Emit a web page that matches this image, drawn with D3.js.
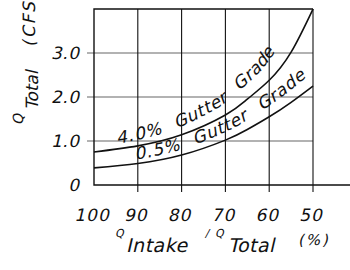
<!DOCTYPE html>
<html>
<head>
<meta charset="utf-8">
<script src="https://cdn.jsdelivr.net/npm/d3@7"></script>
<style>
  html, body { margin: 0; padding: 0; background: #fff; }
  svg { display: block; }
  text { font-family: "DejaVu Sans", sans-serif; fill: #111; }
</style>
</head>
<body>
<svg id="chart" width="350" height="270"></svg>
<script>
// --- data -------------------------------------------------------------------
const xTicks = [100, 90, 80, 70, 60, 50];          // Q intake / Q total (%)
const yTicks = [0, 1, 2, 3];                        // Q total (CFS)
const yTickLabels = ["0", "1.0", "2.0", "3.0"];
const ratio = [100, 90, 80, 70, 65, 60, 55, 50];
const grade40 = [0.75, 0.89, 1.14, 1.59, 1.95, 2.38, 3.02, 4.0];
const grade05 = [0.39, 0.49, 0.68, 1.02, 1.26, 1.55, 1.88, 2.25];
const curveLabels = ["4.0% Gutter Grade", "0.5% Gutter Grade"];

// --- layout -----------------------------------------------------------------
const svg = d3.select("#chart");
const plotL = 94, plotR = 313, plotT = 9, plotB = 185;
const SLANT = "skewX(-13)"; // no oblique face installed, so fake it

const x = d3.scaleLinear().domain([100, 50]).range([plotL, plotR]);
const y = d3.scaleLinear().domain([0, 4]).range([plotB, plotT]);

// helper: slanted text at a point
function slanted(px, py, str, size, opts = {}) {
  const t = svg.append("text")
    .attr("transform", `translate(${px},${py}) ${opts.rotate ? `rotate(${opts.rotate})` : ""} ${SLANT}`)
    .attr("font-size", size)
    .attr("text-anchor", opts.anchor || "start")
    .text(str);
  if (opts.spacing) t.attr("letter-spacing", opts.spacing);
  if (opts.dy) t.attr("dy", opts.dy);
  return t;
}

// horizontal grid (grey) with short stubs to the left
svg.append("g")
  .selectAll("line")
  .data(yTicks.filter(d => d > 0))
  .join("line")
  .attr("x1", plotL - 7).attr("x2", plotR)
  .attr("y1", d => y(d)).attr("y2", d => y(d))
  .attr("stroke", "#666").attr("stroke-width", 1.2);

// vertical grid (black), running down past the axis as ticks
svg.append("g")
  .selectAll("line")
  .data(xTicks.filter(d => d < 100))
  .join("line")
  .attr("x1", d => x(d)).attr("x2", d => x(d))
  .attr("y1", plotT).attr("y2", plotB + 7)
  .attr("stroke", "#111").attr("stroke-width", 1.1);

// frame: left, top, and the long bottom axis
svg.append("path")
  .attr("d", `M${plotR},${plotT}H${plotL}V${plotB}H350`)
  .attr("fill", "none").attr("stroke", "#111").attr("stroke-width", 1.4);

// y tick labels
yTicks.forEach((d, i) => slanted(81, y(d), yTickLabels[i], 17, { anchor: "end", dy: "0.36em", spacing: 0.5 }));

// x tick labels
xTicks.forEach(d => slanted(x(d) - 2, 221, String(d), 17, { anchor: "middle", spacing: 1 }));

// curves
const line = d3.line()
  .x((d, i) => x(ratio[i]))
  .y(d => y(d))
  .curve(d3.curveNatural);

const curves = [grade40, grade05].map(s =>
  svg.append("path")
    .attr("d", line(s))
    .attr("fill", "none")
    .attr("stroke", "#111")
    .attr("stroke-width", 1.6)
    .node()
);

// labels riding above the curves, one glyph at a time so each can be slanted;
// the gap to the curve widens a little toward the steep end
const labelOffset = [24, 42];
const liftStart = [-5, -4], liftEnd = [-14, -11];
const labelSize = 17, labelSpacing = 1.2, wordGap = 8;
curveLabels.forEach((str, k) => {
  const path = curves[k];
  const probe = svg.append("text").attr("font-size", labelSize).text(str);
  const pnode = probe.node();
  const total = pnode.getComputedTextLength() + str.length * labelSpacing + 2 * wordGap;
  let s = labelOffset[k];
  for (let i = 0; i < str.length; i++) {
    const w = pnode.getSubStringLength(i, 1);
    const mid = s + w / 2;
    const f = (mid - labelOffset[k]) / total;
    const lift = liftStart[k] + (liftEnd[k] - liftStart[k]) * f;
    const p = path.getPointAtLength(mid);
    const a = path.getPointAtLength(mid - 1), b = path.getPointAtLength(mid + 1);
    const ang = Math.atan2(b.y - a.y, b.x - a.x) * 180 / Math.PI;
    if (str[i] !== " ") {
      svg.append("text")
        .attr("transform", `translate(${p.x},${p.y}) rotate(${ang}) translate(0,${lift}) ${SLANT}`)
        .attr("font-size", labelSize)
        .attr("text-anchor", "middle")
        .text(str[i]);
    }
    s += w + labelSpacing + (str[i] === " " ? wordGap : 0);
  }
  probe.remove();
});

// y axis title
slanted(23, 125, "Q", 14, { rotate: -90 });
slanted(38, 110, "Total", 17, { rotate: -90 });
slanted(35, 47, "(CFS)", 17, { rotate: -90, spacing: 2 });

// x axis title
slanted(115, 237, "Q", 11);
slanted(126, 252, "Intake", 19, { spacing: 0.5 });
slanted(205, 237, "/", 11);
slanted(215, 237, "Q", 11);
slanted(228, 252, "Total", 19, { spacing: 0.5 });
slanted(298, 245, "(%)", 15, { spacing: 2 });
</script>
</body>
</html>
